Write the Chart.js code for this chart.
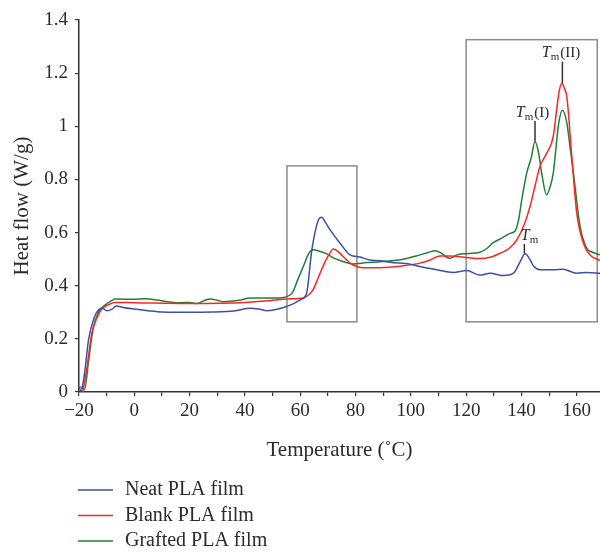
<!DOCTYPE html>
<html>
<head>
<meta charset="utf-8">
<title>Heat flow</title>
<script src="https://cdn.jsdelivr.net/npm/chart.js@4/dist/chart.umd.min.js"></script>
<style>
    body { margin: 0; background: #ffffff; }
    canvas { display: block; }
</style>
</head>
<body>
<canvas id="dscChart" width="600" height="554"></canvas>
<script>
// DSC curves
const seriesNames = ['Neat PLA film', 'Blank PLA film', 'Grafted PLA film'];

const neatTemp = [-20, -19.3, -18, -16.5, -14.5, -13, -11.5, -10, -8, -6.5, -4, 0, 5, 10, 15, 20, 28, 36, 42, 45, 48, 52, 57, 60, 62.3, 64.2, 66.6, 67.8, 69, 70.8, 74.4, 78, 81.6, 85, 89, 92.5, 99.7, 103.3, 109.4, 115.3, 120.2, 125, 128.7, 133.5, 137.1, 139.5, 141.3, 143, 144.3, 146.7, 151.5, 155, 160, 163.6, 168.4];
const neatFlow = [0.02, 0.003, 0.07, 0.2, 0.28, 0.309, 0.315, 0.306, 0.312, 0.324, 0.318, 0.312, 0.306, 0.301, 0.3, 0.3, 0.301, 0.305, 0.315, 0.312, 0.306, 0.312, 0.33, 0.347, 0.372, 0.535, 0.648, 0.658, 0.64, 0.61, 0.56, 0.516, 0.508, 0.497, 0.494, 0.488, 0.481, 0.472, 0.46, 0.45, 0.457, 0.44, 0.447, 0.438, 0.447, 0.49, 0.52, 0.5, 0.475, 0.46, 0.46, 0.462, 0.447, 0.45, 0.447];

const blankTemp = [-18.6, -17, -15.4, -13, -11.5, -9, -7, 0, 20, 40, 50, 55, 61, 63, 64.6, 66.5, 68.2, 70, 72, 73.5, 75.5, 77.5, 79.1, 82.7, 89, 97.2, 103.3, 107, 110.6, 114.2, 120.2, 125, 129, 132.3, 135.5, 138.3, 141, 143.1, 145, 146.7, 149.1, 151.5, 152.7, 153.6, 154.6, 155.6, 156.4, 158.2, 160, 162.4, 164.8, 168.4];
const blankFlow = [0, 0.1, 0.22, 0.29, 0.315, 0.33, 0.337, 0.336, 0.333, 0.337, 0.345, 0.35, 0.354, 0.365, 0.384, 0.43, 0.472, 0.51, 0.538, 0.53, 0.51, 0.49, 0.478, 0.468, 0.468, 0.475, 0.485, 0.497, 0.512, 0.512, 0.506, 0.502, 0.508, 0.522, 0.54, 0.572, 0.63, 0.698, 0.78, 0.85, 0.898, 0.962, 1.06, 1.13, 1.162, 1.14, 1.112, 0.886, 0.673, 0.56, 0.516, 0.495];

const graftTemp = [-19.5, -18, -16.5, -15, -13, -10.6, -8, -7, 0, 4, 8, 13.5, 16.5, 20, 22.6, 25, 27.4, 30, 32, 38, 41.8, 50, 54, 56.3, 57.5, 59, 61.1, 63, 64.7, 67, 69.6, 72, 74.4, 79.1, 84, 88.9, 97.2, 103.3, 106, 108.8, 111.2, 112.8, 114.2, 116.5, 119, 125, 127.5, 129.8, 133, 135.9, 137.7, 139, 140.1, 141.9, 143.5, 144.9, 146.2, 147.3, 149.1, 150.3, 151.5, 152.5, 153.3, 154.8, 156.4, 157.6, 158.8, 161.2, 163.6, 165.5, 168.4];
const graftFlow = [0.02, 0.01, 0.12, 0.233, 0.3, 0.327, 0.345, 0.35, 0.349, 0.351, 0.346, 0.338, 0.336, 0.337, 0.333, 0.343, 0.35, 0.345, 0.34, 0.345, 0.354, 0.354, 0.356, 0.365, 0.38, 0.42, 0.472, 0.52, 0.535, 0.53, 0.52, 0.505, 0.495, 0.482, 0.487, 0.49, 0.5, 0.516, 0.524, 0.532, 0.522, 0.508, 0.503, 0.515, 0.52, 0.526, 0.54, 0.562, 0.58, 0.597, 0.606, 0.65, 0.723, 0.824, 0.88, 0.943, 0.9, 0.824, 0.742, 0.77, 0.824, 0.92, 0.999, 1.06, 1.013, 0.92, 0.824, 0.623, 0.541, 0.527, 0.516];

const xTickValues = [-20, -10, 0, 10, 20, 30, 40, 50, 60, 70, 80, 90, 100, 110, 120, 130, 140, 150, 160];
const yTickValues = [0, 0.2, 0.4, 0.6, 0.8, 1, 1.2, 1.4];

// highlighted regions and melting peak marks (data units)
const regionBoxes = [
    { x0: 55.2, x1: 80.5, y0: 0.264, y1: 0.851 },
    { x0: 120, x1: 167.4, y0: 0.264, y1: 1.326 }
];
const peakMarks = [
    { x: 154.8, top: 1.243, bottom: 1.162, labelX: 154.3, labelY: 1.262, suffix: '(II)' },
    { x: 144.9, top: 1.02, bottom: 0.943, labelX: 144.0, labelY: 1.036, suffix: '(I)' },
    { x: 141.05, top: 0.557, bottom: 0.522, labelX: 142.9, labelY: 0.572, suffix: '' }
];

const lineColors = ['#3a50aa', '#ff2424', '#217f35'];
const textColor = '#2b2b2b';
const serif = "'Liberation Serif', 'Times New Roman', serif";

document.addEventListener('DOMContentLoaded', function() {
    initChart();
});

function toPoints(temps, flows) {
    return temps.map((t, i) => ({ x: t, y: flows[i] }));
}

const figurePlugin = {
    id: 'figureExtras',
    beforeDatasetsDraw(chart) {
        const { ctx, scales: { x, y } } = chart;
        ctx.save();
        ctx.strokeStyle = '#8c8c8c';
        ctx.lineWidth = 1.5;
        regionBoxes.forEach(b => {
            const left = x.getPixelForValue(b.x0);
            const right = x.getPixelForValue(b.x1);
            const top = y.getPixelForValue(b.y1);
            const bottom = y.getPixelForValue(b.y0);
            ctx.strokeRect(left, top, right - left, bottom - top);
        });
        ctx.restore();
    },
    afterDatasetsDraw(chart) {
        const { ctx, scales: { x, y } } = chart;
        ctx.save();
        // peak marks
        peakMarks.forEach(m => {
            const px = x.getPixelForValue(m.x);
            ctx.strokeStyle = '#333333';
            ctx.lineWidth = 1.5;
            ctx.beginPath();
            ctx.moveTo(px, y.getPixelForValue(m.top));
            ctx.lineTo(px, y.getPixelForValue(m.bottom));
            ctx.stroke();

            const tFont = 'italic 16px ' + serif;
            const mFont = '11px ' + serif;
            const sFont = '15px ' + serif;
            ctx.font = tFont;
            const wT = ctx.measureText('T').width;
            ctx.font = mFont;
            const wM = ctx.measureText('m').width;
            ctx.font = sFont;
            const wS = m.suffix ? ctx.measureText(m.suffix).width + 1 : 0;
            let lx = x.getPixelForValue(m.labelX) - (wT + wM + wS) / 2;
            const ly = y.getPixelForValue(m.labelY);
            ctx.fillStyle = textColor;
            ctx.textBaseline = 'alphabetic';
            ctx.textAlign = 'left';
            ctx.font = tFont;
            ctx.fillText('T', lx, ly);
            lx += wT;
            ctx.font = mFont;
            ctx.fillText('m', lx, ly + 3);
            lx += wM + 1;
            if (m.suffix) {
                ctx.font = sFont;
                ctx.fillText(m.suffix, lx, ly);
            }
        });

        // legend (stacked rows under the axis title)
        const legendX = 78;
        const legendY = chart.chartArea.bottom + 98;
        chart.data.datasets.forEach((ds, i) => {
            const rowY = legendY + i * 25.5;
            ctx.strokeStyle = ds.borderColor;
            ctx.lineWidth = 1.5;
            ctx.beginPath();
            ctx.moveTo(legendX, rowY);
            ctx.lineTo(legendX + 35, rowY);
            ctx.stroke();
            ctx.fillStyle = textColor;
            ctx.font = '20px ' + serif;
            ctx.textBaseline = 'middle';
            ctx.fillText(ds.label, legendX + 47, rowY);
        });
        ctx.restore();
    }
};

function initChart() {
    const ctx = document.getElementById('dscChart').getContext('2d');
    const tickFont = { family: serif, size: 19 };
    const titleFont = { family: serif, size: 21 };

    const dscChart = new Chart(ctx, {
        type: 'line',
        data: {
            datasets: [{
                label: seriesNames[0],
                data: toPoints(neatTemp, neatFlow),
                borderColor: lineColors[0]
            }, {
                label: seriesNames[1],
                data: toPoints(blankTemp, blankFlow),
                borderColor: lineColors[1]
            }, {
                label: seriesNames[2],
                data: toPoints(graftTemp, graftFlow),
                borderColor: lineColors[2]
            }]
        },
        options: {
            responsive: false,
            animation: false,
            devicePixelRatio: 1,
            clip: false,
            layout: {
                padding: { top: 20, right: 0, bottom: 92, left: 0 }
            },
            elements: {
                line: {
                    borderWidth: 1.5,
                    tension: 0.4,
                    cubicInterpolationMode: 'monotone',
                    fill: false
                },
                point: { radius: 0 }
            },
            plugins: {
                legend: { display: false },
                tooltip: { enabled: false }
            },
            scales: {
                x: {
                    type: 'linear',
                    min: -20,
                    max: 168.4,
                    afterBuildTicks: function(scale) {
                        scale.ticks = xTickValues.map(v => ({ value: v }));
                    },
                    afterFit: function(scale) {
                        scale.height = 70;
                    },
                    grid: {
                        drawOnChartArea: false,
                        drawTicks: true,
                        tickLength: 4,
                        color: '#333333',
                        lineWidth: 1.2
                    },
                    border: { display: true, color: '#333333', width: 1.5 },
                    ticks: {
                        autoSkip: false,
                        maxRotation: 0,
                        padding: 4,
                        color: textColor,
                        font: tickFont,
                        callback: function(value) {
                            if (value % 20 !== 0) return '';
                            return value < 0 ? '\u2212' + Math.abs(value) : String(value);
                        }
                    },
                    title: {
                        display: true,
                        text: 'Temperature (\u02DAC)',
                        color: textColor,
                        font: titleFont,
                        padding: { top: 0, bottom: -1 }
                    }
                },
                y: {
                    type: 'linear',
                    min: 0,
                    max: 1.4,
                    afterBuildTicks: function(scale) {
                        scale.ticks = yTickValues.map(v => ({ value: v }));
                    },
                    afterFit: function(scale) {
                        scale.width = 79;
                    },
                    grid: {
                        drawOnChartArea: false,
                        drawTicks: true,
                        tickLength: 4,
                        color: '#333333',
                        lineWidth: 1.2
                    },
                    border: { display: true, color: '#333333', width: 1.5 },
                    ticks: {
                        padding: 7,
                        color: textColor,
                        font: tickFont,
                        callback: function(value) {
                            return String(parseFloat(value.toFixed(1)));
                        }
                    },
                    title: {
                        display: true,
                        text: 'Heat flow (W/g)',
                        color: textColor,
                        font: titleFont,
                        padding: { top: 10, bottom: 0 }
                    }
                }
            }
        },
        plugins: [figurePlugin]
    });
}
</script>
</body>
</html>
